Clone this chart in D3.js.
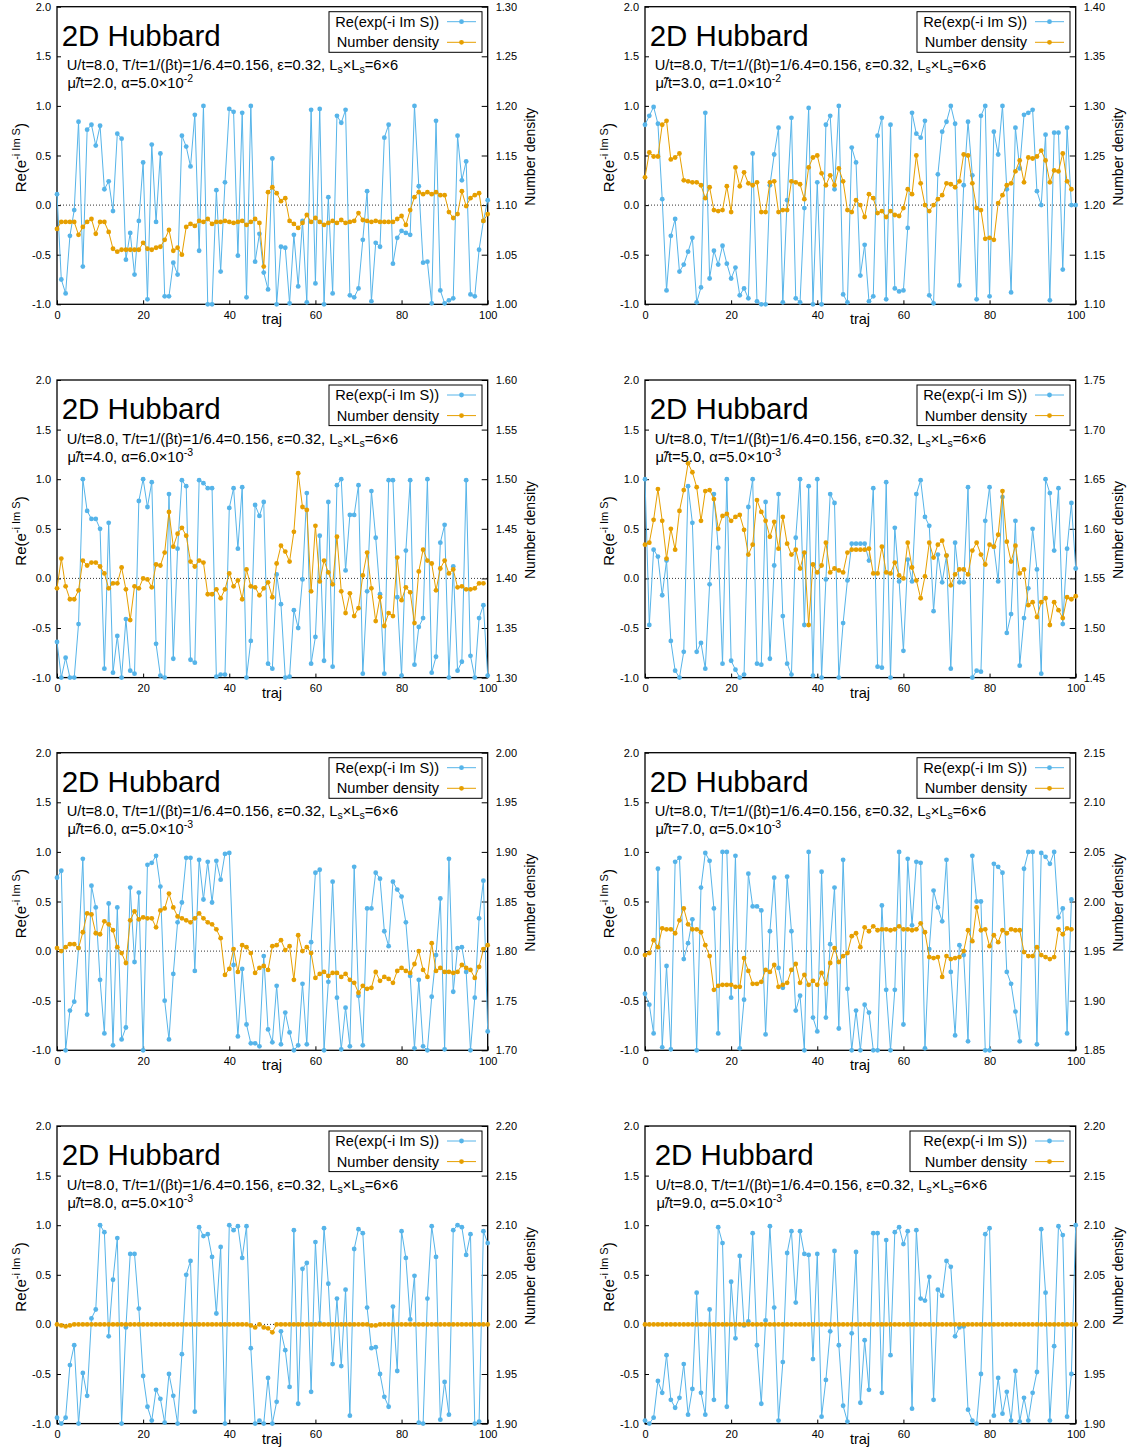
<!DOCTYPE html>
<html>
<head>
<meta charset="utf-8">
<script src="https://cdn.jsdelivr.net/npm/d3@7"></script>
<style>
  body { margin: 0; background: #fff; }
  svg { display: block; font-family: "Liberation Sans", Arial, Helvetica, sans-serif; }
</style>
</head>
<body>
<svg id="chart" width="1136" height="1452"></svg>
<script>
// Re(exp(-i Im S)) per trajectory, one array per chemical potential
const re1 = [
  0.11,-0.75,-0.89,-0.31,-0.05,0.84,-0.62,0.76,0.81,0.60,
  0.80,0.16,0.24,-0.06,0.72,0.67,-0.55,-0.28,-0.70,-0.16,
  0.43,-0.95,0.61,-0.17,0.52,-0.92,-0.92,-0.58,-0.70,0.70,
  0.59,0.39,0.91,-0.46,1.0,-1.0,-1.0,0.15,-0.67,0.23,
  0.97,0.94,-0.51,0.93,-0.93,1.0,-0.57,-0.29,-0.68,-0.85,
  0.47,-1.0,-0.42,-0.43,-0.99,-0.30,-0.82,-0.16,-0.98,0.96,
  -0.79,0.97,-1.0,0.08,-0.89,0.90,0.83,0.96,-0.91,-0.93,
  -0.84,-0.35,0.14,-0.97,-0.38,-0.42,0.68,0.81,-0.59,-0.33,
  -0.26,-0.28,-0.30,1.0,0.19,-0.58,-0.57,-0.99,0.85,-0.86,
  -0.99,-0.96,-0.94,0.70,0.25,0.44,-0.90,-0.92,-0.45,-0.16,0.05];
const re2 = [
  0.81,0.90,0.99,0.82,0.06,-0.86,-0.31,-0.14,-0.67,-0.60,
  -0.47,-0.33,-0.98,-0.83,0.93,-0.74,-0.46,-0.60,-0.41,-0.59,
  -0.74,-0.63,-0.91,-0.84,-0.94,0.52,-0.97,-1.0,-1.0,0.20,
  0.51,0.78,-0.98,0.05,0.88,-0.94,-0.98,-0.03,0.98,-1.0,
  0.23,-1.0,0.81,0.90,0.16,1.0,-0.90,-0.98,0.58,0.43,
  -0.71,-0.40,-0.97,-0.92,0.70,0.88,-0.95,0.81,-0.84,-0.87,
  -0.86,-0.23,0.93,0.72,0.68,0.85,-0.91,-0.99,0.31,0.74,
  0.84,1.0,0.82,-0.81,0.20,0.84,0.30,-0.95,0.90,1.0,
  -0.92,0.74,0.51,1.0,0.16,-0.88,0.78,0.37,0.91,0.93,
  0.96,0.14,0.0,0.71,-0.96,0.73,0.73,-0.65,0.78,0.0,0.0];
const re3 = [
  -0.64,-1.0,-0.80,-1.0,-1.0,-0.46,1.0,0.68,0.60,0.60,
  0.50,-0.91,0.56,-0.95,-0.58,-1.0,-0.41,-0.93,-0.96,0.78,
  1.0,0.72,0.97,-0.66,-0.98,-1.0,0.85,-0.81,0.30,0.99,
  0.93,-0.82,-0.85,0.99,0.96,0.91,0.91,-0.99,-0.97,-0.97,
  0.71,0.91,0.30,0.92,-1.0,-0.63,0.74,0.63,0.77,-0.86,
  -0.91,0.04,-0.26,-1.0,-0.99,-0.32,-0.50,-0.01,0.86,-0.86,
  -0.59,0.43,-0.83,0.77,-0.89,0.94,1.0,0.08,0.64,0.64,
  0.94,-0.96,-0.13,0.88,0.41,-0.16,-0.96,0.99,0.99,-0.19,
  -0.98,0.28,0.99,-0.87,-0.49,-0.40,1.0,-0.95,-0.79,0.36,
  0.54,-1.0,0.12,-0.93,-0.84,0.99,-0.78,-1.0,-0.40,-0.27,-0.98];
const re4 = [
  1.0,-0.47,0.29,0.22,-0.17,0.18,-0.63,-0.93,-1.0,-0.74,
  0.93,0.56,-0.74,-0.65,-0.91,-0.06,0.85,0.31,-0.86,1.0,
  -0.83,-0.92,-1.0,-0.97,0.72,1.0,-0.86,-0.87,0.77,-0.81,
  0.13,0.85,-0.38,-0.86,-0.97,0.41,1.0,-0.47,0.93,-0.98,
  1.0,-1.0,-0.01,0.85,0.76,-1.0,-0.45,-0.02,0.35,0.35,
  0.35,0.35,0.18,0.91,-0.89,-0.90,0.97,-1.0,0.51,-0.03,
  -0.73,0.19,-0.03,0.85,0.99,0.62,0.53,-0.33,0.24,-0.04,
  0.23,-0.91,0.36,-0.04,-0.04,0.92,-1.0,-0.93,-0.94,0.58,
  0.92,0.32,-0.03,0.82,-0.55,-0.36,0.58,-0.88,-0.40,-0.10,
  0.50,0.09,-0.96,1.0,0.86,0.28,0.91,-0.46,0.30,0.76,0.10];
const re5 = [
  0.74,0.81,-1.0,-0.60,-0.51,0.03,0.93,-0.64,0.66,0.44,
  -0.29,-0.83,0.48,-0.95,0.44,-0.89,-0.77,0.64,-0.11,0.59,
  -1.0,0.87,0.89,0.96,0.65,-0.50,-0.89,-0.23,0.29,0.49,
  0.94,0.94,-0.20,0.92,0.52,0.90,0.49,0.91,0.72,0.98,
  0.99,-0.14,-0.86,-0.18,-0.74,-0.93,-0.93,-0.96,-0.05,-0.79,
  -0.92,-0.35,-0.94,-0.62,-0.82,-1.0,-0.95,-0.33,-0.94,0.09,
  0.79,0.82,-1.0,-0.31,0.70,-0.47,-0.99,-0.57,-0.96,0.85,
  -0.45,-0.95,0.43,0.43,0.79,0.73,0.20,0.05,0.70,0.62,
  0.55,0.29,-0.25,-0.98,-0.29,-0.96,-1.0,-0.46,-0.04,0.53,
  -0.99,0.93,-0.41,0.03,0.04,-0.21,-1.0,-0.47,0.33,0.71,-0.81];
const re6 = [
  -0.43,-0.54,-0.83,0.83,-0.97,-0.15,-0.99,0.90,0.94,-0.08,
  0.08,0.32,-1.0,0.64,0.99,0.91,0.43,-0.83,1.0,1.0,
  -0.47,0.96,-0.98,-0.49,0.78,0.45,0.45,0.41,-0.84,0.20,
  0.74,-0.17,-0.37,0.75,0.20,-0.60,-0.45,-1.0,1.0,-0.67,
  -0.81,0.80,-0.67,0.07,0.64,-0.78,0.92,-0.38,-1.0,-0.60,
  -1.0,-0.54,-0.62,-1.0,-1.0,0.46,-0.39,-1.0,-0.39,1.0,
  -0.74,0.93,0.26,0.90,0.89,-0.98,0.02,0.61,0.44,0.30,
  0.92,-0.21,-0.85,0.06,-0.04,-0.91,0.96,0.50,0.50,-1.0,
  -1.0,0.88,0.85,0.79,-0.21,-0.33,-0.61,-0.91,0.83,1.0,
  1.0,-0.94,0.99,0.95,0.88,1.0,0.34,0.43,-0.83,0.52];
const re7 = [
  -0.94,-1.0,-0.94,-0.41,-0.21,-1.0,-0.49,-0.72,0.06,0.15,
  1.0,0.93,-0.12,0.45,0.87,-1.0,-0.03,0.71,0.71,0.16,
  -0.52,-0.83,-0.97,-0.66,-0.75,-0.99,-0.50,-0.72,-1.0,-0.30,
  0.50,0.64,-0.88,0.98,0.89,0.91,0.68,0.11,0.78,-1.0,
  1.0,0.95,0.99,0.67,0.99,-0.24,-1.0,-0.97,-1.0,-0.54,
  -1.0,-0.78,-0.07,-0.26,-0.63,0.95,-0.80,0.56,0.62,-0.68,
  0.83,0.01,0.97,0.41,-0.40,0.26,-0.42,0.35,-0.92,0.76,
  0.96,0.92,0.17,-0.24,-0.23,-0.50,-0.73,-0.83,0.18,-0.47,
  0.94,0.67,0.05,0.49,-0.99,-1.0,0.26,0.99,0.68,-0.96,
  -0.58,-0.91,0.95,1.0,0.98,0.70,0.91,-1.0,-0.98,0.94,0.82];
const re8 = [
  -0.97,-1.0,-0.94,-0.57,-0.69,-0.31,-0.76,-0.84,-0.74,-0.40,
  -0.91,-0.65,0.32,-0.69,-0.91,0.15,-0.76,0.98,0.82,-0.83,
  0.43,-0.14,0.69,-0.01,0.03,0.92,-0.21,-0.80,0.04,0.99,
  0.17,-0.97,-0.38,0.72,0.94,0.22,0.94,0.71,0.70,-0.35,
  0.71,-0.93,-0.56,-0.07,0.74,-0.21,-0.82,-0.98,-0.09,0.73,
  -0.79,-0.16,-0.66,0.92,0.92,-0.69,0.85,-0.31,0.93,0.98,
  0.81,0.94,-0.85,0.95,0.26,0.24,0.48,-0.76,0.35,0.29,
  0.64,0.58,-0.12,-0.03,-0.02,-0.86,-0.97,-1.0,-0.50,0.91,
  0.97,-0.92,-0.54,-0.90,-0.68,-0.97,-0.47,-0.98,-0.74,-0.97,
  -0.69,-0.48,0.96,0.32,-0.97,-0.22,0.99,0.90,-0.93,-0.50,1.0];

// Number density per trajectory (right-hand axis)
const nd1 = [
  1.076,1.083,1.083,1.083,1.083,1.070,1.078,1.083,1.086,1.071,
  1.083,1.083,1.073,1.056,1.053,1.055,1.055,1.055,1.055,1.055,
  1.062,1.056,1.055,1.057,1.058,1.065,1.075,1.054,1.057,1.050,
  1.078,1.081,1.079,1.084,1.083,1.086,1.081,1.083,1.083,1.084,
  1.083,1.082,1.083,1.084,1.080,1.083,1.086,1.082,1.038,1.113,
  1.118,1.112,1.104,1.107,1.084,1.081,1.077,1.082,1.090,1.083,
  1.087,1.083,1.080,1.082,1.084,1.082,1.085,1.082,1.083,1.084,
  1.092,1.085,1.084,1.083,1.084,1.083,1.083,1.083,1.083,1.086,
  1.089,1.080,1.095,1.108,1.113,1.111,1.113,1.111,1.113,1.110,
  1.110,1.093,1.087,1.091,1.114,1.099,1.107,1.110,1.112,1.084,1.091];
const nd2 = [
  1.228,1.253,1.249,1.249,1.281,1.285,1.246,1.248,1.252,1.225,
  1.224,1.223,1.223,1.220,1.207,1.218,1.195,1.194,1.195,1.219,
  1.193,1.238,1.219,1.233,1.222,1.220,1.223,1.193,1.193,1.223,
  1.224,1.193,1.195,1.195,1.224,1.223,1.221,1.206,1.238,1.248,
  1.250,1.232,1.220,1.230,1.220,1.237,1.224,1.195,1.193,1.205,
  1.200,1.188,1.211,1.207,1.192,1.194,1.188,1.194,1.190,1.189,
  1.197,1.216,1.211,1.250,1.222,1.200,1.194,1.200,1.206,1.210,
  1.222,1.221,1.218,1.224,1.251,1.250,1.222,1.197,1.195,1.166,
  1.167,1.165,1.202,1.210,1.220,1.222,1.234,1.245,1.223,1.248,
  1.247,1.249,1.255,1.245,1.223,1.235,1.234,1.252,1.224,1.216];
const nd3 = [
  1.390,1.420,1.392,1.379,1.379,1.388,1.418,1.413,1.416,1.416,
  1.412,1.405,1.390,1.395,1.395,1.411,1.389,1.358,1.392,1.390,
  1.400,1.399,1.391,1.414,1.413,1.426,1.467,1.432,1.445,1.451,
  1.443,1.417,1.412,1.418,1.416,1.384,1.384,1.389,1.380,1.389,
  1.405,1.392,1.398,1.379,1.409,1.392,1.391,1.383,1.390,1.396,
  1.381,1.415,1.433,1.427,1.417,1.447,1.506,1.472,1.469,1.387,
  1.453,1.397,1.418,1.406,1.394,1.442,1.387,1.365,1.385,1.362,
  1.370,1.403,1.426,1.390,1.357,1.381,1.352,1.365,1.362,1.421,
  1.378,1.391,1.386,1.355,1.407,1.429,1.418,1.415,1.388,1.410,
  1.418,1.405,1.409,1.391,1.392,1.389,1.389,1.390,1.395,1.395];
const nd4 = [
  1.584,1.586,1.609,1.640,1.608,1.570,1.600,1.579,1.618,1.639,
  1.666,1.657,1.642,1.608,1.638,1.639,1.630,1.600,1.613,1.615,
  1.608,1.612,1.614,1.599,1.574,1.584,1.629,1.617,1.608,1.592,
  1.607,1.580,1.612,1.585,1.574,1.579,1.560,1.576,1.503,1.564,
  1.556,1.563,1.586,1.556,1.560,1.558,1.556,1.576,1.579,1.579,
  1.579,1.579,1.580,1.555,1.555,1.582,1.556,1.555,1.566,1.553,
  1.550,1.586,1.561,1.548,1.530,1.552,1.586,1.571,1.584,1.588,
  1.573,1.543,1.554,1.559,1.559,1.554,1.578,1.586,1.574,1.564,
  1.584,1.582,1.594,1.638,1.587,1.567,1.583,1.555,1.559,1.523,
  1.526,1.511,1.526,1.530,1.503,1.526,1.518,1.510,1.531,1.529,1.532];
const nd5 = [
  1.803,1.800,1.804,1.807,1.807,1.803,1.819,1.838,1.837,1.818,
  1.817,1.830,1.827,1.821,1.804,1.798,1.788,1.831,1.840,1.832,
  1.834,1.833,1.833,1.824,1.841,1.843,1.858,1.844,1.835,1.833,
  1.831,1.829,1.833,1.838,1.833,1.829,1.827,1.822,1.813,1.776,
  1.782,1.802,1.779,1.806,1.804,1.798,1.778,1.783,1.785,1.781,
  1.805,1.806,1.811,1.801,1.805,1.771,1.816,1.800,1.804,1.798,
  1.773,1.777,1.779,1.775,1.778,1.778,1.774,1.777,1.771,1.768,
  1.758,1.765,1.762,1.763,1.779,1.770,1.774,1.772,1.768,1.780,
  1.783,1.780,1.778,1.787,1.800,1.781,1.774,1.808,1.780,1.783,
  1.779,1.779,1.778,1.779,1.786,1.783,1.781,1.773,1.784,1.802,1.806];
const nd6 = [
  1.946,1.948,1.961,1.954,1.973,1.972,1.972,1.968,1.981,1.993,
  1.977,1.972,1.972,1.969,1.956,1.945,1.911,1.915,1.916,1.916,
  1.916,1.914,1.914,1.943,1.930,1.917,1.917,1.919,1.931,1.929,
  1.936,1.914,1.916,1.918,1.931,1.937,1.918,1.926,1.916,1.920,
  1.916,1.928,1.917,1.938,1.953,1.939,1.945,1.948,1.965,1.968,
  1.954,1.974,1.970,1.975,1.971,1.972,1.972,1.971,1.972,1.975,
  1.972,1.972,1.971,1.972,1.978,1.969,1.944,1.943,1.944,1.924,
  1.945,1.942,1.943,1.944,1.950,1.971,1.960,1.994,1.971,1.972,
  1.955,1.966,1.959,1.971,1.968,1.972,1.971,1.971,1.949,1.945,
  1.945,1.954,1.946,1.944,1.942,1.944,1.972,1.967,1.973,1.972];
const nd7 = [
  2.000,1.999,1.998,1.999,2.000,2.000,2.000,2.000,2.000,2.000,
  2.000,2.000,2.000,2.000,2.000,2.000,2.000,2.000,2.000,2.000,
  2.000,2.000,2.000,2.000,2.000,2.000,2.000,2.000,2.000,2.000,
  2.000,2.000,2.000,2.000,2.000,2.000,2.000,2.000,2.000,2.000,
  2.000,2.000,2.000,2.000,2.000,1.999,1.997,2.000,1.997,1.996,
  1.992,2.000,2.000,2.000,2.000,2.000,2.000,2.000,2.000,2.000,
  2.000,2.000,2.000,2.000,2.000,2.000,2.000,2.000,2.000,2.000,
  2.000,2.000,2.000,1.999,1.999,2.000,2.000,2.000,2.000,2.000,
  2.000,2.000,2.000,2.000,2.000,2.000,2.000,2.000,2.000,2.000,
  2.000,2.000,2.000,2.000,2.000,2.000,2.000,2.000,2.000,2.000,2.000];
const nd8 = [
  2.000,2.000,2.000,2.000,2.000,2.000,2.000,2.000,2.000,2.000,
  2.000,2.000,2.000,2.000,2.000,2.000,2.000,2.000,2.000,2.000,
  2.000,2.000,2.000,2.000,2.000,2.000,2.000,2.000,2.000,2.000,
  2.000,2.000,2.000,2.000,2.000,2.000,2.000,2.000,2.000,2.000,
  2.000,2.000,2.000,2.000,2.000,2.000,2.000,2.000,2.000,2.000,
  2.000,2.000,2.000,2.000,2.000,2.000,2.000,2.000,2.000,2.000,
  2.000,2.000,2.000,2.000,2.000,2.000,2.000,2.000,2.000,2.000,
  2.000,2.000,2.000,2.000,2.000,2.000,2.000,2.000,2.000,2.000,
  2.000,2.000,2.000,2.000,2.000,2.000,2.000,2.000,2.000,2.000,
  2.000,2.000,2.000,2.000,2.000,2.000,2.000,2.000,2.000,2.000,2.000];

// run parameters shown in each panel
const muLabels = ["2.0", "3.0", "4.0", "5.0", "6.0", "7.0", "8.0", "9.0"];
const alphaMantissa = ["5.0", "1.0", "6.0", "5.0", "5.0", "5.0", "5.0", "5.0"];
const alphaExponent = ["-2", "-2", "-3", "-3", "-3", "-3", "-3", "-3"];

// tick labels
const xTicks = [0, 20, 40, 60, 80, 100];
const leftTicks = [-1.0, -0.5, 0.0, 0.5, 1.0, 1.5, 2.0];
const rightTickLabels = [
  ["1.00","1.05","1.10","1.15","1.20","1.25","1.30"],
  ["1.10","1.15","1.20","1.25","1.30","1.35","1.40"],
  ["1.30","1.35","1.40","1.45","1.50","1.55","1.60"],
  ["1.45","1.50","1.55","1.60","1.65","1.70","1.75"],
  ["1.70","1.75","1.80","1.85","1.90","1.95","2.00"],
  ["1.85","1.90","1.95","2.00","2.05","2.10","2.15"],
  ["1.90","1.95","2.00","2.05","2.10","2.15","2.20"],
  ["1.90","1.95","2.00","2.05","2.10","2.15","2.20"]
];

const reSeries = [re1, re2, re3, re4, re5, re6, re7, re8];
const ndSeries = [nd1, nd2, nd3, nd4, nd5, nd6, nd7, nd8];

// page layout
const colLeft = [57, 645];
const rowTop = [6.7, 380, 752.7, 1126];
const plotW = 430.7, plotH = 297.6;
const titleShift = [0, 0, 0, 0, 0, 0, 0, 5];
const legendGrow = [0, 0, 0, 0, 0, 0, 0, 7];

const BLUE = "#56b4e9", ORANGE = "#e69f00";
const svg = d3.select("#chart");
svg.append("rect").attr("width", 1136).attr("height", 1452).attr("fill", "#fff");

function styleAxis(sel, size) {
  sel.select(".domain").remove();
  sel.selectAll(".tick line").attr("stroke", "#000").attr("stroke-width", 1);
  sel.selectAll(".tick text").attr("fill", "#000").attr("font-size", size)
     .attr("font-family", '"Liberation Sans", Arial, sans-serif');
}

reSeries.forEach((re, k) => {
  const nd = ndSeries[k];
  const col = k % 2, row = Math.floor(k / 2);
  const left = colLeft[col], top = rowTop[row];
  const right = left + plotW, bottom = top + plotH;

  const x = d3.scaleLinear().domain([0, 100]).range([left, right]);
  const yL = d3.scaleLinear().domain([-1, 2]).range([bottom, top]);
  const rt = rightTickLabels[k].map(Number);
  const yR = d3.scaleLinear().domain([rt[0], rt[rt.length - 1]]).range([bottom, top]);

  const g = svg.append("g").attr("class", "panel");

  // axes with inward ticks
  g.append("g").attr("transform", `translate(${left},0)`)
    .call(d3.axisLeft(yL).tickValues(leftTicks).tickFormat(d => d.toFixed(1))
      .tickSizeInner(-4).tickSizeOuter(0).tickPadding(6))
    .call(s => styleAxis(s, 11));
  g.append("g").attr("transform", `translate(${right},0)`)
    .call(d3.axisRight(yR).tickValues(rt).tickFormat((d, i) => rightTickLabels[k][i])
      .tickSizeInner(-6).tickSizeOuter(0).tickPadding(8))
    .call(s => styleAxis(s, 11));
  g.append("g").attr("transform", `translate(0,${bottom})`)
    .call(d3.axisBottom(x).tickValues(xTicks).tickFormat(d3.format("d"))
      .tickSizeInner(-4).tickSizeOuter(0).tickPadding(7))
    .call(s => styleAxis(s, 11));

  // frame
  g.append("rect").attr("x", left).attr("y", top).attr("width", plotW).attr("height", plotH)
    .attr("fill", "none").attr("stroke", "#000").attr("stroke-width", 1.3);

  // zero reference line
  g.append("line").attr("x1", x(0)).attr("x2", x(100)).attr("y1", yL(0)).attr("y2", yL(0))
    .attr("stroke", "#333").attr("stroke-width", 1).attr("stroke-dasharray", "1,2");

  // Re(exp(-i Im S)) series
  const lineL = d3.line().x((d, i) => x(i)).y(d => yL(d));
  g.append("path").datum(re).attr("d", lineL).attr("fill", "none")
    .attr("stroke", BLUE).attr("stroke-width", 1);
  g.append("g").selectAll("circle").data(re).join("circle")
    .attr("cx", (d, i) => x(i)).attr("cy", d => yL(d)).attr("r", 2.4).attr("fill", BLUE);

  // number density series
  const lineR = d3.line().x((d, i) => x(i)).y(d => yR(d));
  g.append("path").datum(nd).attr("d", lineR).attr("fill", "none")
    .attr("stroke", ORANGE).attr("stroke-width", 1);
  g.append("g").selectAll("circle").data(nd).join("circle")
    .attr("cx", (d, i) => x(i)).attr("cy", d => yR(d)).attr("r", 2.4).attr("fill", ORANGE);

  // axis titles
  g.append("text").attr("x", left + 215).attr("y", bottom + 20).attr("text-anchor", "middle")
    .attr("font-size", 14.5).text("traj");
  const yl = g.append("text").attr("transform", `translate(${left - 31},${top + 151}) rotate(-90)`)
    .attr("text-anchor", "middle").attr("font-size", 15);
  yl.append("tspan").text("Re(e");
  yl.append("tspan").attr("font-size", 11).attr("dy", -6).text("-i Im S");
  yl.append("tspan").attr("dy", 6).text(")");
  g.append("text").attr("transform", `translate(${right + 47},${top + 150}) rotate(-90)`)
    .attr("text-anchor", "middle").attr("font-size", 14).text("Number density");

  // panel title and run parameters
  const tx = left + 4.7 + titleShift[k];
  g.append("text").attr("x", tx).attr("y", top + 39.3).attr("font-size", 29.5).text("2D Hubbard");
  const s1 = g.append("text").attr("x", left + 9.7 + titleShift[k] * 0.2).attr("y", top + 63.5).attr("font-size", 14.7);
  s1.append("tspan").text("U/t=8.0, T/t=1/(\u03B2t)=1/6.4=0.156, \u03B5=0.32, L");
  s1.append("tspan").attr("font-size", 10.5).attr("dy", 3).text("s");
  s1.append("tspan").attr("dy", -3).text("\u00D7L");
  s1.append("tspan").attr("font-size", 10.5).attr("dy", 3).text("s");
  s1.append("tspan").attr("dy", -3).text("=6\u00D76");
  const s2 = g.append("text").attr("x", left + 10.5 + titleShift[k] * 0.2).attr("y", top + 81.5).attr("font-size", 14.7);
  s2.append("tspan").text(`\u03BC\u0303/t=${muLabels[k]}, \u03B1=${alphaMantissa[k]}\u00D710`);
  s2.append("tspan").attr("font-size", 10.5).attr("dy", -6).text(alphaExponent[k]);

  // legend
  const lx = left + 272 - legendGrow[k];
  g.append("rect").attr("x", lx).attr("y", top + 5).attr("width", left + 425 - lx).attr("height", 40.6)
    .attr("fill", "#fff").attr("stroke", "#000").attr("stroke-width", 1);
  const entries = [{ label: "Re(exp(-i Im S))", color: BLUE, dy: 15 },
                   { label: "Number density", color: ORANGE, dy: 35.6 }];
  entries.forEach(e => {
    const yy = top + e.dy;
    g.append("text").attr("x", left + 382).attr("y", yy).attr("dy", "0.35em")
      .attr("text-anchor", "end").attr("font-size", 14.6).text(e.label);
    g.append("line").attr("x1", left + 390).attr("x2", left + 419).attr("y1", yy).attr("y2", yy)
      .attr("stroke", e.color).attr("stroke-width", 1);
    g.append("circle").attr("cx", left + 404.5).attr("cy", yy).attr("r", 2.4).attr("fill", e.color);
  });
});
</script>
</body>
</html>
